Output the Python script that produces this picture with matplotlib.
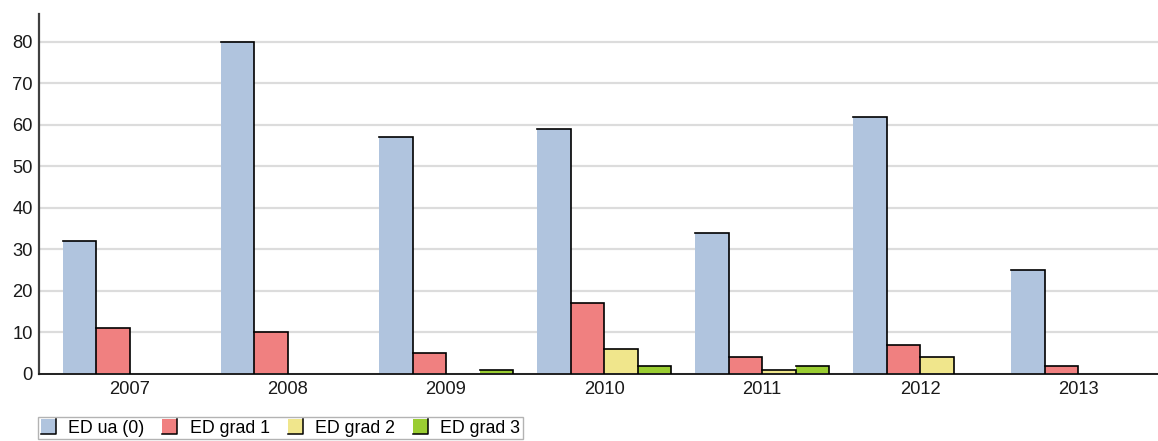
import numpy as np
import matplotlib
matplotlib.use('Agg')
import matplotlib.pyplot as plt
from matplotlib.patches import Rectangle
from matplotlib.lines import Line2D
from matplotlib.legend_handler import HandlerBase

plt.rcParams['font.family'] = ['Liberation Sans', 'DejaVu Sans']

# 数据
years = ['2007', '2008', '2009', '2010', '2011', '2012', '2013']
series_names = ['ED ua (0)', 'ED grad 1', 'ED grad 2', 'ED grad 3']
ed_ua = [32, 80, 57, 59, 34, 62, 25]
ed_grad1 = [11, 10, 5, 17, 4, 7, 2]
ed_grad2 = [0, 0, 0, 6, 1, 4, 0]
ed_grad3 = [0, 0, 1, 2, 2, 0, 0]
colors = ['#B0C4DE', '#F08080', '#F0E68C', '#9ACD32']


class ShadowHandler(HandlerBase):
    # 图例色块：右侧和底部带黑线
    def __init__(self, color):
        super().__init__()
        self.color = color

    def create_artists(self, legend, orig_handle, xdescent, ydescent,
                       width, height, fontsize, trans):
        s = min(width, height * 1.15)
        x0, y0 = -xdescent, -ydescent - 0.05 * height
        rect = Rectangle((x0, y0), s, s, facecolor=self.color,
                         edgecolor='none', transform=trans)
        edge = Line2D([x0 + s, x0 + s, x0], [y0 + s, y0, y0],
                      color='black', lw=1.1, transform=trans)
        return [rect, edge]


fig = plt.figure(figsize=(11.58, 4.41), dpi=100)
ax = fig.add_axes([38.5 / 1158, 1 - 374 / 441, 1 - 38.5 / 1158, (374 - 14) / 441])

x = np.arange(len(years))
w = 0.212
all_series = [ed_ua, ed_grad1, ed_grad2, ed_grad3]
handles = []
for i, (vals, c, name) in enumerate(zip(all_series, colors, series_names)):
    bars = ax.bar(x + (i - 1.5) * w, vals, w, color=c, edgecolor='none',
                  label=name, zorder=2)
    handles.append(bars)
    for rect in bars:
        h = rect.get_height()
        if h <= 0:
            continue
        x0 = rect.get_x()
        x1 = x0 + rect.get_width()
        ax.plot([x0, x1, x1], [h, h, 0], color='black', lw=1.2,
                zorder=3, solid_joinstyle='miter')

ax.set_xlim(-0.579, 6.506)
ax.set_ylim(0, 86.7)
ax.set_yticks(range(0, 81, 10))
ax.set_xticks(x)
ax.set_xticklabels(years)
ax.tick_params(length=0, labelsize=13.2, colors='#1a1a1a', pad=5)
ax.tick_params(axis='y', pad=4)
ax.yaxis.grid(True, color='#DCDCDC', lw=1.6, zorder=0)
ax.set_axisbelow(True)

for side in ['top', 'right']:
    ax.spines[side].set_visible(False)
ax.spines['left'].set_color('#404040')
ax.spines['left'].set_linewidth(1.6)
ax.spines['bottom'].set_color('#202020')
ax.spines['bottom'].set_linewidth(1.4)

leg = fig.legend(handles=handles, labels=series_names, ncol=4,
                 loc='upper left', bbox_to_anchor=(38 / 1158, 1 - 417 / 441),
                 handler_map={h: ShadowHandler(c) for h, c in zip(handles, colors)},
                 frameon=True, fancybox=False, fontsize=12.8,
                 handlelength=0.85, handleheight=0.8, handletextpad=0.7,
                 columnspacing=1.0, borderpad=0.15, borderaxespad=0)
leg.get_frame().set_edgecolor('#A0A0A0')
leg.get_frame().set_linewidth(1.0)

fig.savefig('out.png', dpi=100)
